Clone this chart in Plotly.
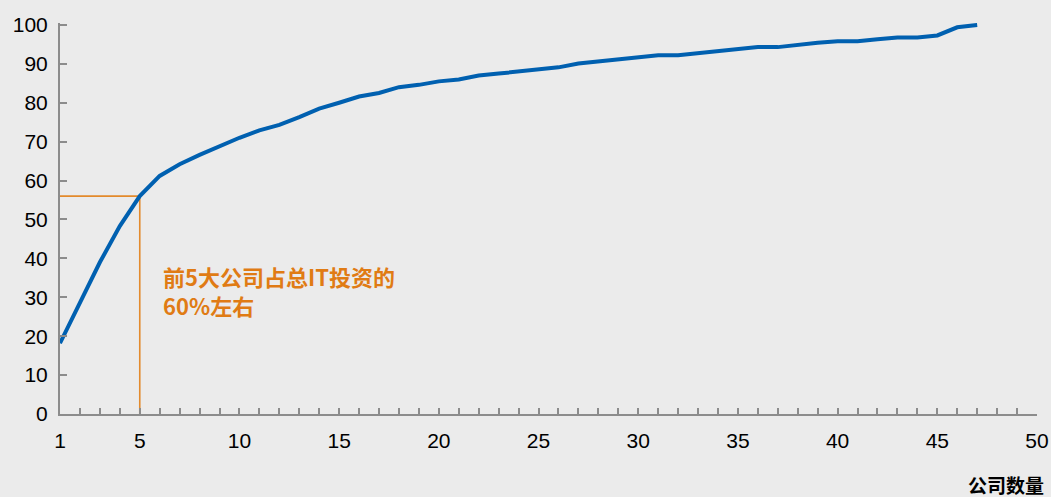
import plotly.graph_objects as go

# Cumulative share of total IT investment (%) by number of companies
companies = list(range(1, 48))
cum_share = [
    18.2, 28.5, 39.0, 48.3, 56.0, 61.2, 64.2, 66.6, 68.8, 71.0,
    72.9, 74.3, 76.3, 78.5, 80.0, 81.6, 82.5, 84.0, 84.6, 85.5,
    86.0, 87.0, 87.5, 88.0, 88.6, 89.1, 90.1, 90.6, 91.2, 91.7,
    92.2, 92.2, 92.7, 93.3, 93.8, 94.3, 94.3, 94.9, 95.4, 95.8,
    95.8, 96.3, 96.8, 96.8, 97.3, 99.4, 100.0,
]

# Marker lines for the top-5 share
top_n = 5
top_share = 56.0

x_tickvals = [1, 5, 10, 15, 20, 25, 30, 35, 40, 45, 50]
y_tickvals = list(range(0, 101, 10))

note_lines = ["前5大公司占总IT投资的", "60%左右"]

bg = "#EBEBEB"
axis_grey = "#8C8C8C"
orange = "#E07B14"
blue = "#0060B0"

fig = go.Figure()

# orange guide lines: horizontal from the y-axis, vertical down to the x-axis
fig.add_trace(go.Scatter(
    x=[1, top_n, top_n], y=[top_share, top_share, 0],
    mode="lines", line=dict(color="#E38A2C", width=1.6),
    hoverinfo="skip", showlegend=False,
))

fig.add_trace(go.Scatter(
    x=companies, y=cum_share, mode="lines",
    line=dict(color=blue, width=4),
    showlegend=False,
))

# note text, one annotation per line (pixel centres 276 and 304)
note_ann = [
    dict(
        text=f"<b>{line}</b>",
        xref="paper", yref="paper", x=(161 - 60) / 977, y=(414 - yc) / 391,
        xanchor="left", yanchor="middle", align="left", showarrow=False,
        font=dict(family="Noto Sans CJK SC", size=22, color=orange),
    )
    for line, yc in zip(note_lines, [276, 305])
]

fig.update_layout(
    width=1051, height=497,
    paper_bgcolor=bg, plot_bgcolor=bg,
    margin=dict(l=60, r=14, t=23, b=83, autoexpand=False),
    font=dict(family="Liberation Sans, Arial, sans-serif", size=21, color="#000000"),
    xaxis=dict(
        range=[1, 50], tickvals=x_tickvals, ticks="inside", ticklen=6,
        tickcolor=axis_grey, tickwidth=1.5, automargin=False,
        minor=dict(dtick=1, tick0=0, ticks="inside", ticklen=6,
                   tickcolor=axis_grey, tickwidth=1.5, showgrid=False),
        showline=True, linecolor=axis_grey, linewidth=2,
        showgrid=False, zeroline=False, ticklabelstandoff=7,
    ),
    yaxis=dict(
        range=[0, 100.5], tickvals=y_tickvals, ticks="inside", ticklen=7,
        tickcolor=axis_grey, tickwidth=1.5, automargin=False,
        showline=True, linecolor=axis_grey, linewidth=2,
        showgrid=False, zeroline=False, ticklabelstandoff=6,
    ),
    annotations=note_ann + [
        dict(
            text="<b>公司数量</b>",
            xref="paper", yref="paper", x=(1046 - 60) / 977, y=-(484 - 414) / 391,
            xanchor="right", yanchor="middle", showarrow=False,
            font=dict(family="Noto Sans CJK SC", size=19, color="#000000"),
        ),
    ],
)

fig.write_html("out.html")
